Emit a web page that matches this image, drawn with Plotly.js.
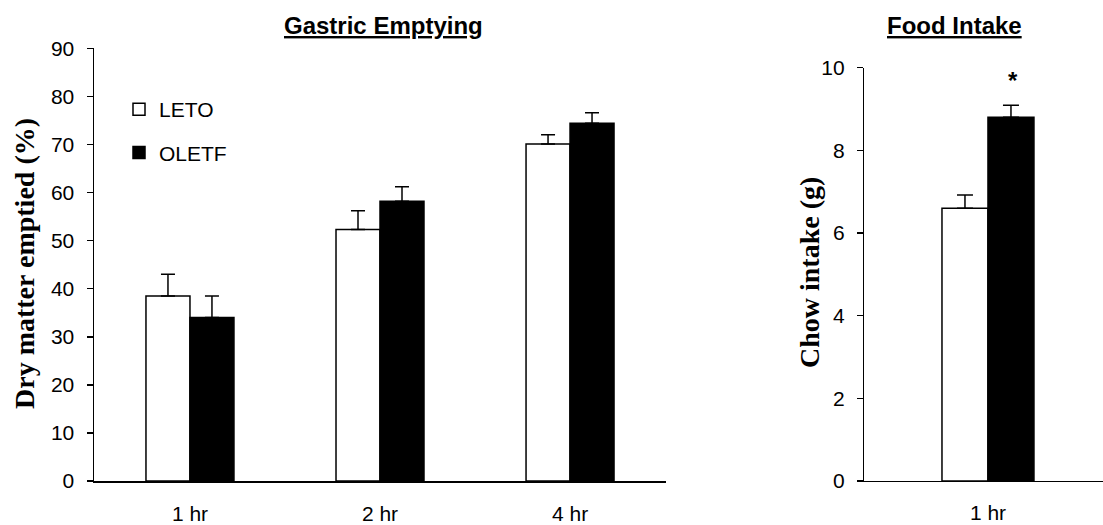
<!DOCTYPE html>
<html>
<head>
<meta charset="utf-8">
<script src="https://cdn.plot.ly/plotly-3.0.1.min.js"></script>
<style>html,body{margin:0;padding:0;background:#fff;}#chart{width:1103px;height:525px;}</style>
</head>
<body>
<div id="chart"></div>
<script>
// Gastric emptying (left panel)
const categories = ['1 hr', '2 hr', '4 hr'];
const letoValues = [38.5, 52.3, 70.1];
const letoErrors = [4.5, 3.9, 1.9];
const oletfValues = [34.0, 58.2, 74.4];
const oletfErrors = [4.5, 3.0, 2.2];

// Food intake (right panel)
const foodCategories = ['1 hr'];
const letoFood = [6.6];
const letoFoodErrors = [0.32];
const oletfFood = [8.8];
const oletfFoodErrors = [0.29];

const leftTicks = [0, 10, 20, 30, 40, 50, 60, 70, 80, 90];
const rightTicks = [0, 2, 4, 6, 8, 10];

const W = 1103, H = 525;
const sans = 'Liberation Sans, Arial, sans-serif';
const serif = 'Liberation Serif, Times New Roman, serif';

const whiteBar = {color: '#ffffff', line: {color: '#000000', width: 1.5}};
const blackBar = {color: '#000000', line: {color: '#000000', width: 1.5}};

const traces = [
  {type: 'bar', name: 'LETO', x: categories, y: letoValues, xaxis: 'x', yaxis: 'y',
   marker: whiteBar, legendgroup: 'a',
   error_y: {type: 'data', symmetric: false, array: letoErrors, arrayminus: letoErrors.map(() => 0),
             color: '#000', thickness: 1.5, width: 7}},
  {type: 'bar', name: 'OLETF', x: categories, y: oletfValues, xaxis: 'x', yaxis: 'y',
   marker: blackBar, legendgroup: 'b',
   error_y: {type: 'data', symmetric: false, array: oletfErrors, arrayminus: oletfErrors.map(() => 0),
             color: '#000', thickness: 1.5, width: 7}},
  {type: 'bar', name: 'LETO', x: foodCategories, y: letoFood, xaxis: 'x2', yaxis: 'y2',
   marker: whiteBar, showlegend: false,
   error_y: {type: 'data', symmetric: false, array: letoFoodErrors, arrayminus: letoFoodErrors.map(() => 0),
             color: '#000', thickness: 1.5, width: 8}},
  {type: 'bar', name: 'OLETF', x: foodCategories, y: oletfFood, xaxis: 'x2', yaxis: 'y2',
   marker: blackBar, showlegend: false,
   error_y: {type: 'data', symmetric: false, array: oletfFoodErrors, arrayminus: oletfFoodErrors.map(() => 0),
             color: '#000', thickness: 1.5, width: 8}}
];

const axisBase = {
  showgrid: false, zeroline: false, showline: true, linecolor: '#000', linewidth: 1.5,
  tickfont: {family: sans, size: 21, color: '#000'}, fixedrange: true
};

const layout = {
  width: W, height: H,
  margin: {l: 0, r: 0, t: 0, b: 0},
  paper_bgcolor: '#fff', plot_bgcolor: 'rgba(0,0,0,0)',
  barmode: 'group', bargap: 0.537, bargroupgap: 0,
  showlegend: true,
  legend: {x: 119 / W, y: 1 - 89 / H, xanchor: 'left', yanchor: 'top',
           font: {family: sans, size: 21, color: '#000'}, tracegroupgap: 13,
           bgcolor: 'rgba(0,0,0,0)', borderwidth: 0},
  xaxis: Object.assign({}, axisBase, {domain: [94 / W, 666 / W], range: [-0.505, 2.505],
          type: 'category', ticks: '', anchor: 'y', ticklabelstandoff: 13}),
  yaxis: Object.assign({}, axisBase, {domain: [1 - 481 / H, 1 - 48.3 / H], range: [0, 90],
          tickvals: leftTicks, ticks: 'outside', ticklen: 6, tickwidth: 1.5, tickcolor: '#000',
          anchor: 'x', ticklabelstandoff: 8}),
  xaxis2: Object.assign({}, axisBase, {domain: [864 / W, 1], range: [-0.624, 0.579],
          type: 'category', ticks: '', anchor: 'y2', linewidth: 1.2, ticklabelstandoff: 13}),
  yaxis2: Object.assign({}, axisBase, {domain: [1 - 481 / H, 1 - 67.7 / H], range: [0, 10],
          tickvals: rightTicks, ticks: 'outside', ticklen: 6, tickwidth: 1.2, tickcolor: '#000',
          anchor: 'x2', linewidth: 1.2, ticklabelstandoff: 8}),
  annotations: [
    {text: '<b><u>Gastric Emptying</u></b>', xref: 'paper', yref: 'paper', x: 383 / W, y: 1 - 25 / H,
     xanchor: 'center', yanchor: 'middle', showarrow: false, font: {family: sans, size: 24, color: '#000'}},
    {text: '<b><u>Food Intake</u></b>', xref: 'paper', yref: 'paper', x: 954 / W, y: 1 - 25 / H,
     xanchor: 'center', yanchor: 'middle', showarrow: false, font: {family: sans, size: 24, color: '#000'}},
    {text: '<b>Dry matter emptied (%)</b>', xref: 'paper', yref: 'paper', x: 24 / W, y: 1 - 264 / H,
     xanchor: 'center', yanchor: 'middle', textangle: -90, showarrow: false,
     font: {family: serif, size: 28, color: '#000'}},
    {text: '<b>Chow intake (g)</b>', xref: 'paper', yref: 'paper', x: 809 / W, y: 1 - 273 / H,
     xanchor: 'center', yanchor: 'middle', textangle: -90, showarrow: false,
     font: {family: serif, size: 28, color: '#000'}},
    {text: '<b>*</b>', xref: 'x2', yref: 'y2', x: 0.126, y: 9.78, yshift: -4,
     xanchor: 'center', yanchor: 'middle', showarrow: false, font: {family: sans, size: 24, color: '#000'}}
  ]
};

Plotly.newPlot('chart', traces, layout, {displayModeBar: false, staticPlot: true});
</script>
</body>
</html>
